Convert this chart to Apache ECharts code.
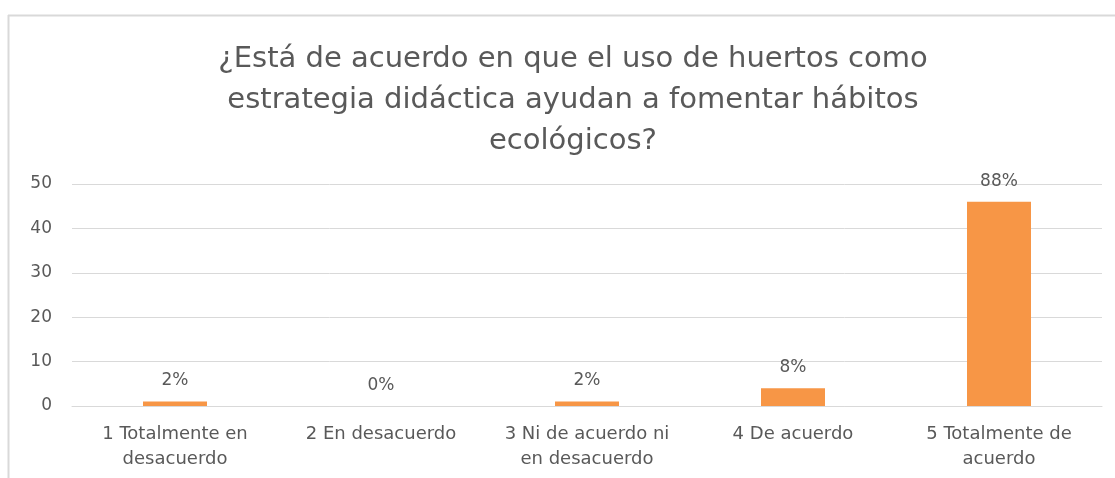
<!DOCTYPE html>
<html>
<head>
<meta charset="utf-8">
<script src="https://cdn.jsdelivr.net/npm/echarts@6/dist/echarts.min.js"></script>
<style>
  html, body { margin: 0; padding: 0; background: #fff; }
  #chart { width: 1115px; height: 478px; }
</style>
</head>
<body>
<div id="chart"></div>
<script>
// categorías del eje x
const categories = [
  '1 Totalmente en\ndesacuerdo',
  '2 En desacuerdo',
  '3 Ni de acuerdo ni\nen desacuerdo',
  '4 De acuerdo',
  '5 Totalmente de\nacuerdo'
]
// número de respuestas
const counts = [1, 0, 1, 4, 46]
// etiquetas de porcentaje
const percentLabels = ['2%', '0%', '2%', '8%', '88%']
const yTicks = [0, 10, 20, 30, 40, 50]

const textColor = '#595959'
const font = 'DejaVu Sans'

const chart = echarts.init(document.getElementById('chart'))
chart.setOption({
  backgroundColor: '#fff',
  textStyle: { fontFamily: font },
  title: {
    text: '¿Está de acuerdo en que el uso de huertos como\nestrategia didáctica ayudan a fomentar hábitos\necológicos?',
    left: 568,
    textAlign: 'center',
    top: 34,
    textStyle: {
      fontFamily: font,
      fontSize: 29,
      fontWeight: 'normal',
      color: textColor,
      lineHeight: 41
    }
  },
  graphic: [
    { type: 'line', shape: { x1: 8, y1: 15.5, x2: 1115, y2: 15.5 }, style: { stroke: '#d9d9d9', lineWidth: 2 } },
    { type: 'line', shape: { x1: 8.5, y1: 15, x2: 8.5, y2: 478 }, style: { stroke: '#d9d9d9', lineWidth: 2 } }
  ],
  grid: { left: 72, right: 13, top: 184, bottom: 72 },
  xAxis: {
    type: 'category',
    data: categories,
    axisTick: { show: false },
    axisLine: { lineStyle: { color: '#d9d9d9', width: 1 } },
    axisLabel: {
      color: textColor,
      fontSize: 18,
      lineHeight: 25,
      margin: 16,
      interval: 0
    }
  },
  yAxis: {
    type: 'value',
    min: yTicks[0],
    max: yTicks[yTicks.length - 1],
    interval: 10,
    axisLine: { show: false },
    axisTick: { show: false },
    axisLabel: { color: textColor, fontSize: 17, margin: 20 },
    splitLine: { lineStyle: { color: '#d9d9d9', width: 1 } }
  },
  series: [{
    type: 'bar',
    data: counts,
    barWidth: 64,
    itemStyle: { color: '#f79646' },
    label: {
      show: true,
      position: 'top',
      distance: 12,
      color: textColor,
      fontSize: 17,
      formatter: p => percentLabels[p.dataIndex]
    }
  }]
})
</script>
</body>
</html>
